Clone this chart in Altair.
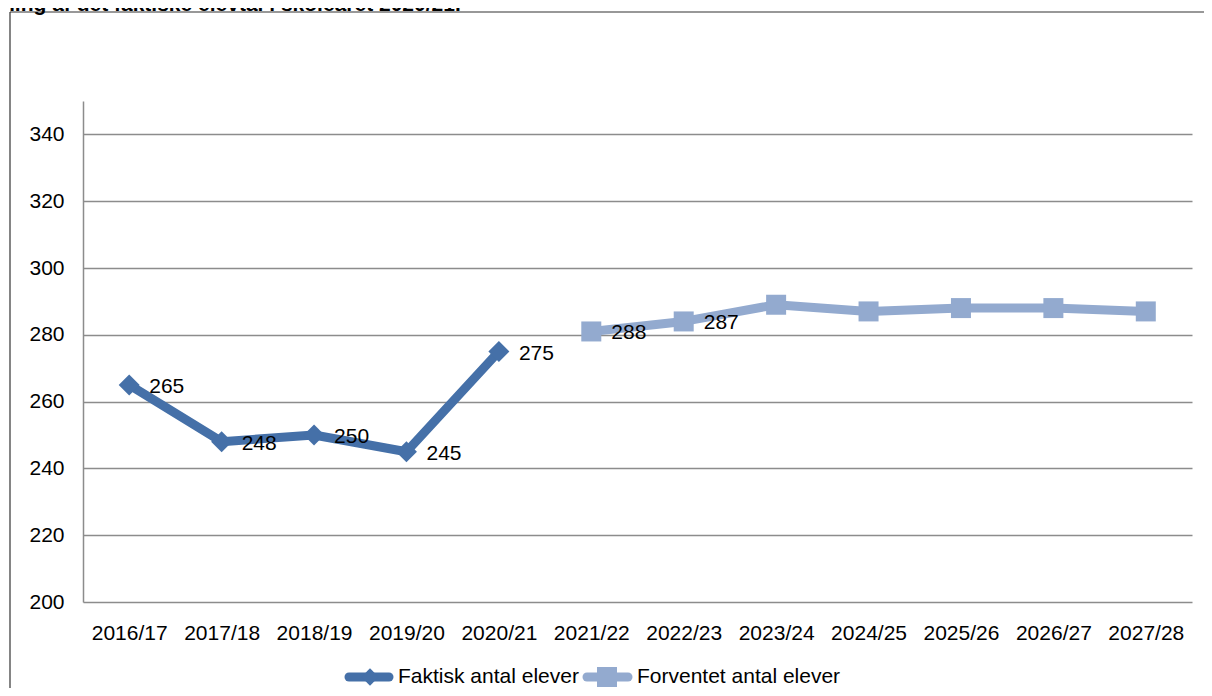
import altair as alt
import pandas as pd

# ---------------- data ----------------
years = ["2016/17", "2017/18", "2018/19", "2019/20", "2020/21", "2021/22",
         "2022/23", "2023/24", "2024/25", "2025/26", "2026/27", "2027/28"]
actual_years = years[:5]
actual_values = [265, 248, 250, 245, 275]
actual_labels = ["265", "248", "250", "245", "275"]
forecast_years = years[5:]
forecast_values = [281, 284, 289, 287, 288, 288, 287]
forecast_labels = ["288", "287", "", "", "", "", ""]
y_ticks = [200, 220, 240, 260, 280, 300, 320, 340]
series_names = ["Faktisk antal elever", "Forventet antal elever"]
title_text = "ning af det faktiske elevtal i skoleåret 2020/21."

# ---------------- style ----------------
DARK = "#4570A8"
LIGHT = "#93AACF"
GRID = "#8C8C8C"
FONT = "Liberation Sans"
FS = 21

df_a = pd.DataFrame({"year": actual_years, "value": actual_values, "label": actual_labels})
df_f = pd.DataFrame({"year": forecast_years, "value": forecast_values, "label": forecast_labels})
one = pd.DataFrame({"k": [0]})

x_enc = alt.X("year:N", sort=years,
              scale=alt.Scale(type="point", domain=years, padding=0.5),
              axis=alt.Axis(title=None, labelAngle=0, ticks=False, domain=False, grid=False,
                            labelFont=FONT, labelFontSize=FS, labelColor="black",
                            labelPadding=20))
y_enc = alt.Y("value:Q",
              scale=alt.Scale(domain=[200, 350], nice=False, zero=False),
              axis=alt.Axis(title=None, values=y_ticks, grid=True, gridColor=GRID,
                            gridWidth=1.5, ticks=False, domainColor=GRID, domainWidth=1.5,
                            labelFont=FONT, labelFontSize=FS, labelColor="black",
                            labelPadding=19))

base_a = alt.Chart(df_a).encode(x=x_enc, y=y_enc)
base_f = alt.Chart(df_f).encode(x=x_enc, y=y_enc)

line_a = base_a.mark_line(color=DARK, strokeWidth=9, strokeJoin="round")
pts_a = base_a.mark_point(shape="diamond", filled=True, color=DARK, size=440, opacity=1)
lab_a = base_a.mark_text(font=FONT, fontSize=FS, color="black", align="left",
                         baseline="middle", dx=20, dy=2).encode(text="label:N")

line_f = base_f.mark_line(color=LIGHT, strokeWidth=9, strokeJoin="round")
pts_f = base_f.mark_point(shape="square", filled=True, color=LIGHT, size=400, opacity=1)
lab_f = base_f.mark_text(font=FONT, fontSize=FS, color="black", align="left",
                         baseline="middle", dx=20, dy=2).encode(text="label:N")

# outer frame (top and left edges) and cut-off caption (decoration)
frame_top = alt.Chart(one).mark_rule(color="#333333", strokeWidth=1.2).encode(
    x=alt.value(-73), x2=alt.value(1121), y=alt.value(-89), y2=alt.value(-89))
frame_left = alt.Chart(one).mark_rule(color="#333333", strokeWidth=1.2).encode(
    x=alt.value(-73), x2=alt.value(-73), y=alt.value(-89), y2=alt.value(587))
caption = alt.Chart(one).mark_text(text=title_text, font=FONT, fontSize=FS,
                                   fontWeight="bold", align="left",
                                   baseline="alphabetic", color="black").encode(
    x=alt.value(-81), y=alt.value(-90))

# custom legend
leg_y = 576
leg1_line = alt.Chart(one).mark_rule(color=DARK, strokeWidth=9, strokeCap="round").encode(
    x=alt.value(266), x2=alt.value(306), y=alt.value(leg_y), y2=alt.value(leg_y))
leg1_pt = alt.Chart(one).mark_point(shape="diamond", filled=True, color=DARK,
                                    size=300, opacity=1).encode(
    x=alt.value(287), y=alt.value(leg_y))
leg1_txt = alt.Chart(one).mark_text(text=series_names[0], font=FONT, fontSize=FS,
                                    align="left", baseline="middle", color="black").encode(
    x=alt.value(315), y=alt.value(leg_y))
leg2_line = alt.Chart(one).mark_rule(color=LIGHT, strokeWidth=9, strokeCap="round").encode(
    x=alt.value(504), x2=alt.value(545), y=alt.value(leg_y), y2=alt.value(leg_y))
leg2_pt = alt.Chart(one).mark_point(shape="square", filled=True, color=LIGHT,
                                    size=400, opacity=1).encode(
    x=alt.value(524), y=alt.value(leg_y))
leg2_txt = alt.Chart(one).mark_text(text=series_names[1], font=FONT, fontSize=FS,
                                    align="left", baseline="middle", color="black").encode(
    x=alt.value(554), y=alt.value(leg_y))

chart = alt.layer(
    frame_top, frame_left, caption,
    line_a, line_f, pts_a, pts_f, lab_a, lab_f,
    leg1_line, leg1_pt, leg1_txt, leg2_line, leg2_pt, leg2_txt,
).properties(
    width=1109, height=501,
    padding={"left": 75, "top": 93, "right": 12, "bottom": 86},
    autosize=alt.AutoSizeParams(type="none"),
    background="white",
).configure_view(strokeWidth=0)

chart.save("out.html", embed_options={"renderer": "svg", "actions": False})
